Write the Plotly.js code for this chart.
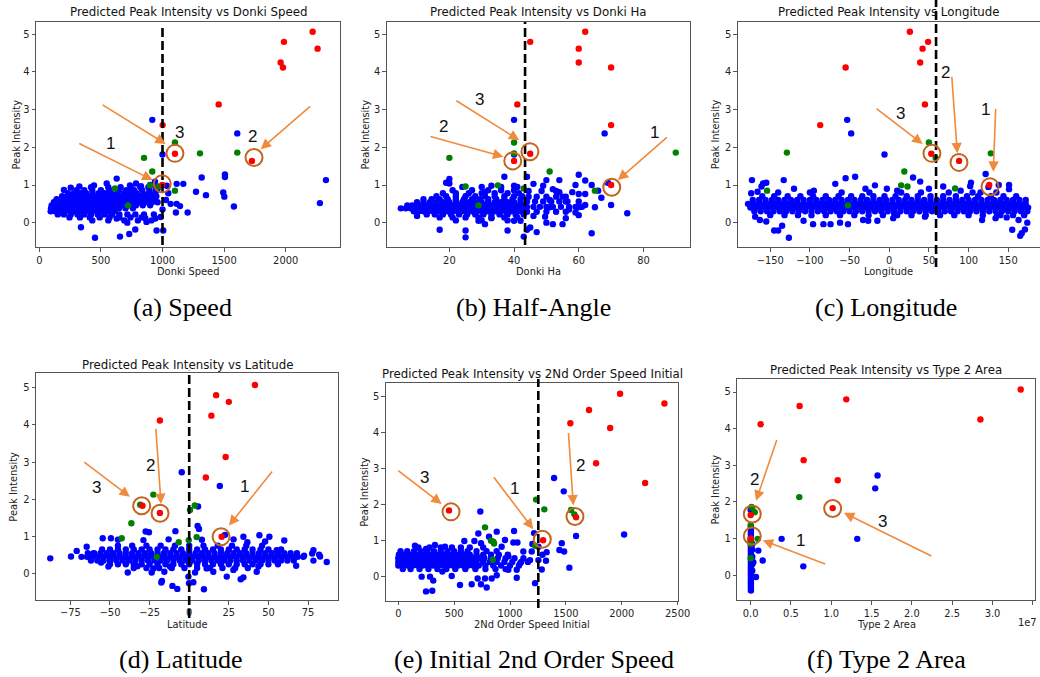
<!DOCTYPE html>
<html><head><meta charset="utf-8">
<script src="https://cdn.plot.ly/plotly-3.0.1.min.js"></script>
<style>html,body{margin:0;padding:0;background:#fff;}#chart{width:1040px;height:677px;}</style>
</head><body><div id="chart"></div>
<script>
// ---------------- DATA ----------------
const redPeak   = [5.07,4.80,4.62,4.25,4.12,3.14,2.59,1.83,1.64,1.00];
const greenPeak = [2.13,1.86,1.84,1.72,1.36,0.99,0.96,0.91,0.85,0.46];

const speedRed   = [2219,1986,2259,1959,1978,1456,1001,1101,1726,998];
const haRed      = [62,45,60,60,70,41,70,45,40,70];
const lonRed     = [26,49,42,39,-55,45,-87,53,88,126];
const latRed     = [41.5,17,25,14,-18.5,23,10.5,-29.5,-18.5,20.5];
const sosRed     = [1985,2382,1707,1540,1896,1770,2209,454,1591,1296];
const areaRed    = [3.35,1.186,0.607,2.85,0.124,0.657,1.08,1.017,0.0,0.0];

const speedGreen = [1101,1607,1304,850,917,898,966,614,1101,720];
const haGreen    = [40,90,40,20,51,35,25,43,65,29];
const lonGreen   = [50,-129,128,58.5,19,15,23,83,-154,-52];
const latGreen   = [-22.6,-30.9,3.5,0.5,-36.5,4.7,-42.6,-0.3,-6.6,-20.5];
const sosGreen   = [1233,1307,1546,1576,776,830,851,857,1224,845];
const areaGreen  = [0.603,0.01,0.02,0.05,0.0,0.087,0.0,0.0,0.0,0.0];

// blue: scattered points [x, peak]
const speedBlueOut = [[917,2.73],[1607,2.37],[1000,1.81],[2327,1.13],[1318,1.20],[1507,1.28],[1507,1.21],[1169,1.03],[1115,1.03],[1272,0.82],[1353,0.73],[1493,0.80],[1502,0.69],[1580,0.43],[2278,0.52],[1142,0.44],[1204,0.27],[1109,0.27],[1034,0.98],[1047,0.78],[1066,0.50],[1115,0.50],[1028,0.60],[860,0.12],[942,0.11],[952,-0.21],[1006,-0.21],[779,-0.18],[730,-0.30],[655,-0.37],[452,-0.40],[338,-0.12],[714,0.0],[628,0.11],[547,1.04],[628,1.17],[736,0.99],[785,1.04],[939,1.09],[825,0.97],[444,0.99],[325,0.96],[255,0.93],[200,0.87],[870,0.02],[1000,0.35],[985,0.15],[960,0.9],[900,1.0]];
// blue: dense band, rows of [peak, [x...]]
const speedBlueCore = [
 [0.30,[92,128,165,205,248,290,335,378,420,465,510,560,610]],
 [0.38,[95,132,170,210,250,292,333,375,418,460,505,550,598,648,700,760]],
 [0.46,[100,138,176,214,252,290,330,370,410,452,495,540,585,632,680,730,785,840,900]],
 [0.54,[118,156,194,232,270,310,350,392,435,478,522,566,612,660,708,758,810,862,915,960]],
 [0.62,[140,178,216,255,295,336,378,420,462,505,548,592,638,685,732,780,830,880,930]],
 [0.70,[185,228,270,312,355,398,440,484,528,572,618,664,712,760,808,858,905,950]],
 [0.78,[232,280,330,380,432,482,532,582,632,684,736,788,840,890,940]],
 [0.86,[300,365,430,500,570,640,705,770,835,895,950]],
 [0.94,[420,560,660,745,820,885,945]],
 [0.22,[150,200,255,310,365,420,475,530,590,650,715,780,850,930]],
 [0.14,[245,330,410,490,570,650,740,830]],
 [0.06,[430,560,690,800,910]]
];

const haBlueOut = [[40,2.73],[68,2.37],[40,1.81],[20,1.16],[20,1.04],[37,1.22],[44,1.22],[60,1.27],[62,1.12],[59,1.0],[64,1.0],[66,0.85],[60,0.76],[62,0.76],[54,0.81],[58,0.81],[52,0.89],[49,0.98],[46,1.03],[67,0.66],[60,0.41],[62,0.47],[65,0.41],[70,0.47],[75,0.25],[59,0.27],[56,0.12],[52,-0.04],[55,-0.04],[64,-0.28],[49.6,0.16],[46,0.18],[45,-0.13],[44,-0.19],[43,-0.37],[42,0.05],[40,0.05],[38,-0.21],[33,0.12],[31,-0.04],[29,0.05],[25,-0.21],[25,-0.39],[17,-0.19],[10,0.18],[19,1.06],[33,0.98],[31,0.81],[40,0.98],[50,1.13],[54,1.13],[51,0.60],[51,0.41],[55,0.69],[56,0.56],[69,1.06],[57,0.35],[60,0.2],[50,0.0],[47,-0.25]];
const haBlueCore = [
 [0.38,[5,6.5,8,9.5,11,12.5,14,15.5,17,18.5,20,21.5,23,24.5,26,27.5,29,30.5,32,33.5,35,36.5,38,39.5,41,42.5]],
 [0.46,[7,8.5,10,11.5,13,14.5,16,17.5,19,20.5,22,23.5,25,26.5,28,29.5,31,32.5,34,35.5,37,38.5,40,41.5,43]],
 [0.30,[9,10.5,12,13.5,15,16.5,18,19.5,21,22.5,24,25.5,27,28.5,30,31.5,33,34.5,36,37.5,39,40.5,42]],
 [0.54,[10,12,14,16,18,20,22,24,26,28,30,32,34,36,38,40,42]],
 [0.62,[12,14.5,17,19.5,22,24.5,27,29.5,32,34.5,37,39.5,42]],
 [0.22,[13,15.5,18,20.5,23,25.5,28,30.5,33,35.5,38,40.5,43]],
 [0.70,[16,19,22,25,28,31,34,37,40,42.5]],
 [0.14,[17,21,25,29,33,37,41]],
 [0.78,[18,22,26,30,34,38,41.5]],
 [0.86,[21,27,32,36,40]],
 [0.95,[24,30,36,41]],
 [0.06,[22,30,38]],
 [0.42,[44,46,48,50,52,54.5,57,59,61]],
 [0.56,[44,46.5,49,51.5,54,56.5,60]],
 [0.69,[44.5,47,50,53,56]],
 [0.29,[44,47,50,53,56]],
 [0.84,[44.5,48.5,53]]
];

const lonBlueOut = [[-53,2.73],[-48,2.37],[-6,1.81],[-173,1.13],[-133,1.13],[-159,1.04],[-55,1.18],[-43,1.22],[-68,1.03],[30,1.20],[39,1.09],[121.5,1.29],[138,1.0],[151,1.0],[151,0.89],[102,0.97],[103,1.06],[68,0.96],[50,0.90],[-18,0.99],[-126.5,-0.40],[-145,-0.21],[-140,-0.21],[-135,-0.08],[-108,0.05],[-96,-0.04],[-83,-0.04],[-74,-0.04],[-62,0.0],[-52,-0.04],[-33,0.07],[-26.5,0.05],[-15,0.05],[6,0.25],[5,0.12],[45,0.16],[117,0.07],[134,0.12],[155,-0.19],[165,-0.35],[171,-0.18],[167,-0.28],[174,0.0],[163,0.07],[148,0.14],[-169,0.16],[-163,0.07],[-155,0.03],[-174,0.78],[-166,0.82],[-155,1.06],[-161,0.96],[-95,0.85],[-120,0.9],[-30,0.9],[10,0.85],[-3,0.9],[90,0.85],[115,0.8],[140,0.2],[125,0.95]];
const lonBlueCore = [
 [0.50,[-178,-171,-164,-157,-150,-143,-136,-129,-122,-115,-108,-101,-94,-87,-80,-73,-66,-59,-52,-45,-38,-31,-24,-17,-10,-3,4,11,18,25,32,39,46,53,60,67,74,81,88,95,102,109,116,123,130,137,144,151,158,165,172]],
 [0.40,[-175,-168,-161,-154,-147,-140,-133,-126,-119,-112,-105,-98,-91,-84,-77,-70,-63,-56,-49,-42,-35,-28,-21,-14,-7,0,7,14,21,28,35,42,49,56,63,70,77,84,91,98,105,112,119,126,133,140,147,154,161,168,175]],
 [0.60,[-172,-164,-156,-148,-140,-132,-124,-116,-108,-100,-92,-84,-76,-68,-60,-52,-44,-36,-28,-20,-12,-4,4,12,20,28,36,44,52,60,68,76,84,92,100,108,116,124,132,140,148,156,164,172]],
 [0.30,[-170,-162,-154,-146,-138,-130,-122,-114,-106,-98,-90,-82,-74,-66,-58,-50,-42,-34,-26,-18,-10,-2,6,14,22,30,38,46,54,62,70,78,86,94,102,110,118,126,134,142,150,158,166,174]],
 [0.70,[-160,-145,-128,-112,-96,-80,-64,-48,-34,-20,-6,8,22,36,52,68,84,98,112,128,144,160]],
 [0.20,[-150,-132,-115,-98,-80,-62,-44,-26,-8,10,28,46,64,82,100,118,136,156,170]],
 [0.80,[-140,-100,-60,-25,15,40,75,105,135]]
];

const latBlueOut = [[-4.7,2.73],[19.3,2.36],[5.6,1.81],[-27.5,1.14],[-25.4,1.12],[-8.7,1.15],[5.3,1.29],[6.2,1.21],[-28.9,0.91],[-54.6,0.96],[-49.4,0.96],[22.6,1.05],[34.2,1.0],[44.3,1.04],[50.6,1.0],[36.7,0.85],[78.4,0.64],[77.6,0.55],[78.4,0.36],[67.5,0.22],[86.8,0.32],[72.5,0.49],[82,0.52],[82.6,0.47],[55.2,0.64],[47.9,0.87],[-87.7,0.42],[-74.6,0.47],[-71,0.62],[-64.7,0.73],[-60.5,0.55],[-55.6,0.31],[-51,0.20],[-38.8,0.04],[-32.7,0.21],[-23.7,0.04],[-17.2,-0.19],[-17.6,-0.23],[-15.7,0.06],[-10.6,-0.32],[-7.5,-0.40],[-0.5,-0.07],[2.6,-0.22],[-0.1,-0.25],[9.3,-0.41],[3.7,0.04],[15.2,0.06],[23.7,-0.07],[32.5,-0.14],[34.2,-0.09],[42.6,0.06],[43.7,0.20],[27.9,0.11],[11,0.15],[-12.1,0.20],[-22.6,0.15],[-13,0.93],[8,0.92],[-45,0.92],[60,0.9],[28,0.93]];
const latBlueCore = [
 [0.46,[-68,-64.5,-61,-57.5,-54,-50.5,-47,-43.5,-40,-36.5,-33,-29.5,-26,-22.5,-19,-15.5,-12,-8.5,-5,-1.5,2,5.5,9,12.5,16,19.5,23,26.5,30,33.5,37,40.5,44,47.5,51,54.5,58,61.5,65,68.5,72]],
 [0.36,[-62,-58,-54,-50,-46,-42,-38,-34,-30,-26,-22,-18,-14,-10,-6,-2,2,6,10,14,18,22,26,30,34,38,42,46,50,54,58,62,66]],
 [0.56,[-64,-60,-56,-52,-48,-44,-40,-36,-32,-28,-24,-20,-16,-12,-8,-4,0,4,8,12,16,20,24,28,32,36,40,44,48,52,56,60,64,68]],
 [0.26,[-50,-45,-40,-35,-30,-25,-20,-15,-10,-5,0,5,10,15,20,25,30,35,40,45,50,56]],
 [0.66,[-55,-50,-45,-40,-35,-30,-25,-20,-15,-10,-5,0,5,10,15,20,25,30,35,40,45,50,58]],
 [0.16,[-35,-27,-19,-11,-3,5,13,21,29,37]],
 [0.76,[-45,-36,-27,-18,-9,0,9,18,27,36,46]]
];

const sosBlueOut = [[1394,2.73],[1481,2.36],[734,1.80],[2021,1.16],[1591,1.12],[1215,1.20],[1463,0.92],[1442,0.73],[1484,0.69],[1531,0.24],[1328,0.67],[1322,0.43],[1284,0.19],[1224,-0.19],[1254,0.45],[1179,0.45],[1194,0.69],[1254,0.82],[1036,1.26],[1030,0.94],[1066,0.94],[1119,0.69],[1090,0.36],[1060,0.18],[1060,-0.04],[985,0.18],[881,0.03],[836,-0.06],[776,-0.06],[791,-0.31],[710,-0.06],[740,-0.22],[657,-0.22],[552,-0.24],[478,0.01],[394,0.13],[313,-0.12],[304,-0.40],[248,-0.42],[284,-0.01],[209,-0.01],[716,1.19],[812,1.10],[591,0.98],[681,0.98],[740,0.92],[328,0.87],[149,0.85],[248,0.76],[418,0.82],[955,1.01],[925,0.82],[881,1.24],[985,0.56],[1200,0.9],[1290,0.6]];
const sosBlueCore = [
 [0.30,[0,40,85,130,175,220,265,310,355,400,445,490,535,580,625,670,720,780,850,920,1000,1080]],
 [0.40,[0,25,65,110,155,200,245,290,335,380,425,470,515,560,605,650,700,760,820,880,950,1020,1100,1160]],
 [0.50,[0,40,85,130,175,220,265,310,355,400,445,490,535,580,625,670,720,770,830,890,960,1040,1120]],
 [0.60,[5,50,95,140,185,230,275,320,365,410,455,500,545,590,640,700,760,830,900,980]],
 [0.70,[20,80,140,200,260,320,380,440,500,560,620,700,790,880]],
 [0.20,[40,110,190,270,350,430,510,600,690,780,870,960]],
 [0.80,[180,280,380,480,560,640,760]]
];

// Type 2 Area in units of 1e7
const areaBlueOut = [[1.574,2.72],[1.545,2.37],[1.322,0.99],[0.384,0.99],[0.653,0.24],[0.149,0.40],[0.095,0.67],[0.066,-0.05],[0.033,0.35],[0.0,1.78],[0.02,0.12],[0.02,0.30],[0.02,0.50],[0.02,0.70],[0.02,0.85]];
const areaBlueCore = [
 [-0.42,[0.003]],[-0.37,[0.003]],[-0.32,[0.003]],[-0.27,[0.003]],[-0.22,[0.003]],[-0.17,[0.003]],[-0.12,[0.003]],[-0.07,[0.003]],
 [-0.02,[0.003]],[0.03,[0.003]],[0.08,[0.003]],[0.13,[0.003]],[0.18,[0.003]],[0.23,[0.003]],[0.28,[0.003]],[0.33,[0.003]],
 [0.38,[0.003]],[0.43,[0.003]],[0.48,[0.003]],[0.53,[0.003]],[0.58,[0.003]],[0.63,[0.003]],[0.68,[0.003]],[0.73,[0.003]],
 [0.78,[0.003]],[0.83,[0.003]],[0.88,[0.003]],[0.93,[0.003]],[0.98,[0.003]],[1.03,[0.003]],[1.08,[0.003]],[1.13,[0.003]],
 [1.18,[0.003]],[1.23,[0.003]],[1.28,[0.003]],[1.33,[0.003]]
];

// threshold lines
const speedThreshold = 1000, haThreshold = 43.4, lonThreshold = 59, latThreshold = 0, sosThreshold = 1253;

// callouts: arrows [tailX, tailY, headX, headY], circles [x, y], labels [x, y, text]
const speedArrows = [[312,2.12,920,1.13],[501,3.15,1026,2.09],[2211,3.12,1797,1.95]];
const speedCircles = [[998,1.03],[1101,1.84],[1743,1.73]];
const speedLabels = [[580,2.09,'1'],[1134,2.40,'3'],[1729,2.28,'2']];
const haArrows = [[13.7,2.30,36.7,1.75],[21.7,3.26,41.6,2.19],[87.7,2.30,72.1,1.13]];
const haCircles = [[39.6,1.64],[44.9,1.885],[70.2,0.94]];
const haLabels = [[18.3,2.55,'2'],[29.3,3.26,'3'],[83.3,2.39,'1']];
const lonArrows = [[-18,3.06,42.1,2.09],[78.7,3.91,85.8,1.84],[134.2,3.06,131.1,1.35]];
const lonCircles = [[53.8,1.84],[87.9,1.60],[127,0.955]];
const lonLabels = [[14.4,2.90,'3'],[71.1,3.98,'2'],[121.9,3.01,'1']];
const latArrows = [[-67.2,3.03,-37.4,2.07],[-21.1,3.94,-17.8,1.88],[53.1,2.79,25.1,1.30]];
const latCircles = [[-30,1.83],[-18.4,1.63],[20.1,1.00]];
const latLabels = [[-58.4,2.33,'3'],[-24.3,2.92,'2'],[35.2,2.34,'1']];
const sosArrows = [[-14,2.97,388,2.01],[845,2.79,1208,1.31],[1522,4.02,1566,1.97]];
const sosCircles = [[472,1.79],[1289,1.03],[1581,1.66]];
const sosLabels = [[230,2.75,'3'],[1038,2.44,'1'],[1635,3.09,'2']];
const areaArrows = [[0.33,3.73,0.066,2.03],[0.943,0.29,0.149,0.95],[2.26,0.50,1.157,1.70]];
const areaCircles = [[0.02,1.67],[0.02,1.07],[1.017,1.82]];
const areaLabels = [[0.045,2.60,'2'],[0.62,0.94,'1'],[1.64,1.46,'3']];

const peakTicks = [0,1,2,3,4,5];
const speedTicks = [0,500,1000,1500,2000];
const haTicks = [20,40,60,80];
const lonTicks = [-150,-100,-50,0,50,100,150];
const latTicks = [-75,-50,-25,0,25,50,75];
const sosTicks = [0,500,1000,1500,2000,2500];
const areaTicks = [0,0.5,1,1.5,2,2.5,3,3.5];

// ---------------- LAYOUT CONFIG (pixels) ----------------
const W = 1040, H = 677;
const panels = [
 {title:'Predicted Peak Intensity vs Donki Speed', xlabel:'Donki Speed', caption:'(a) Speed',
  blueOut:speedBlueOut, blueCore:speedBlueCore, green:speedGreen, red:speedRed, thr:speedThreshold,
  arrows:speedArrows, circles:speedCircles, labels:speedLabels, xt:speedTicks,
  box:[36,340,21.7,247.3], xr:[-27,2441], yr:[-0.654,5.335], titleY:12.3, xlabY:271.5, ylabX:16,
  thrY:[24,245], capX:182, capY:307},
 {title:'Predicted Peak Intensity vs Donki Ha', xlabel:'Donki Ha', caption:'(b) Half-Angle',
  blueOut:haBlueOut, blueCore:haBlueCore, green:haGreen, red:haRed, thr:haThreshold,
  arrows:haArrows, circles:haCircles, labels:haLabels, xt:haTicks,
  box:[386.7,690,21.7,247.3], xr:[0.62,94.4], yr:[-0.654,5.335], titleY:12.3, xlabY:271.5, ylabX:365,
  thrY:[22,245], capX:533, capY:307},
 {title:'Predicted Peak Intensity vs Longitude', xlabel:'Longitude', caption:'(c) Longitude',
  blueOut:lonBlueOut, blueCore:lonBlueCore, green:lonGreen, red:lonRed, thr:lonThreshold,
  arrows:lonArrows, circles:lonCircles, labels:lonLabels, xt:lonTicks,
  box:[737.7,1040,21.7,247.3], xr:[-191,190], yr:[-0.654,5.335], titleY:12.3, xlabY:271.5, ylabX:715.7,
  thrY:[0,267], capX:886, capY:307},
 {title:'Predicted Peak Intensity vs Latitude', xlabel:'Latitude', caption:'(d) Latitude',
  blueOut:latBlueOut, blueCore:latBlueCore, green:latGreen, red:latRed, thr:latThreshold,
  arrows:latArrows, circles:latCircles, labels:latLabels, xt:latTicks,
  box:[36,338.3,373.3,600], xr:[-96.7,94.1], yr:[-0.698,5.386], titleY:365, xlabY:624, ylabX:14,
  thrY:[370.7,618], capX:180, capY:659},
 {title:'Predicted Peak Intensity vs 2Nd Order Speed Initial', xlabel:'2Nd Order Speed Initial', caption:'(e) Initial 2nd Order Speed',
  blueOut:sosBlueOut, blueCore:sosBlueCore, green:sosGreen, red:sosRed, thr:sosThreshold,
  arrows:sosArrows, circles:sosCircles, labels:sosLabels, xt:sosTicks,
  box:[385.7,678.3,383,600.7], xr:[-112.8,2506], yr:[-0.678,5.369], titleY:374, xlabY:624, ylabX:365,
  thrY:[379,608], capX:534, capY:659},
 {title:'Predicted Peak Intensity vs Type 2 Area', xlabel:'Type 2 Area', caption:'(f) Type 2 Area',
  blueOut:areaBlueOut, blueCore:areaBlueCore, green:areaGreen, red:areaRed, thr:null,
  arrows:areaArrows, circles:areaCircles, labels:areaLabels, xt:areaTicks, xfmt:'.1f',
  box:[737.3,1035.3,379.3,600.4], xr:[-0.166,3.531], yr:[-0.69,5.347], titleY:370, xlabY:624, ylabX:715.7,
  thrY:null, capX:886, capY:659, offset:'1e7', offX:1027, offY:622}
];

const AXIS_COLOR = '#555', TICK_FONT = {family:'DejaVu Sans, sans-serif', size:9.9, color:'#222'};
const ARROW_COLOR = '#f08a3c', CIRCLE_COLOR = '#c4641f';

const traces = [];
const layout = {width:W, height:H, margin:{l:0,r:0,t:0,b:0}, showlegend:false,
  paper_bgcolor:'#ffffff', plot_bgcolor:'#ffffff', annotations:[], shapes:[],
  font:{family:'DejaVu Sans, sans-serif', size:9.9, color:'#222'}, hovermode:false};

panels.forEach((p, i) => {
  const n = i === 0 ? '' : String(i + 1);
  const xr = 'x' + n, yr = 'y' + n;
  // blue: core rows + scattered
  const bx = [], by = [];
  p.blueCore.forEach(([y, xs]) => xs.forEach(x => { bx.push(x); by.push(y); }));
  p.blueOut.forEach(([x, y]) => { bx.push(x); by.push(y); });
  traces.push({type:'scatter', mode:'markers', x:bx, y:by, xaxis:xr, yaxis:yr,
    marker:{color:'#0000ff', size:6.4, line:{width:0}}, hoverinfo:'skip'});
  traces.push({type:'scatter', mode:'markers', x:p.green, y:greenPeak, xaxis:xr, yaxis:yr,
    marker:{color:'#008000', size:6.4, line:{width:0}}, hoverinfo:'skip'});
  traces.push({type:'scatter', mode:'markers', x:p.red, y:redPeak, xaxis:xr, yaxis:yr,
    marker:{color:'#ff0000', size:6.4, line:{width:0}}, hoverinfo:'skip'});

  const [l, r, t, b] = p.box;
  layout['xaxis' + n] = {domain:[l / W, r / W], anchor:yr, range:p.xr, tickmode:'array', tickvals:p.xt,
    tickformat:p.xfmt || '', showline:true, mirror:true, linecolor:AXIS_COLOR, linewidth:1,
    ticks:'outside', ticklen:3.5, tickwidth:1, tickcolor:AXIS_COLOR, showgrid:false, zeroline:false,
    tickfont:TICK_FONT, fixedrange:true};
  layout['yaxis' + n] = {domain:[1 - b / H, 1 - t / H], anchor:xr, range:p.yr, tickmode:'array', tickvals:peakTicks,
    showline:true, mirror:true, linecolor:AXIS_COLOR, linewidth:1,
    ticks:'outside', ticklen:3.5, tickwidth:1, tickcolor:AXIS_COLOR, showgrid:false, zeroline:false,
    tickfont:TICK_FONT, fixedrange:true};

  // subplot title
  layout.annotations.push({xref:'paper', yref:'paper', x:(l + r) / 2 / W, y:1 - p.titleY / H,
    xanchor:'center', yanchor:'middle', showarrow:false, text:p.title,
    font:{family:'DejaVu Sans, sans-serif', size:11.8, color:'#111'}});
  // axis labels
  layout.annotations.push({xref:'paper', yref:'paper', x:(l + r) / 2 / W, y:1 - p.xlabY / H,
    xanchor:'center', yanchor:'middle', showarrow:false, text:p.xlabel,
    font:{family:'DejaVu Sans, sans-serif', size:9.9, color:'#222'}});
  layout.annotations.push({xref:'paper', yref:'paper', x:p.ylabX / W, y:1 - ((t + b) / 2) / H,
    xanchor:'center', yanchor:'middle', showarrow:false, text:'Peak Intensity', textangle:-90,
    font:{family:'DejaVu Sans, sans-serif', size:9.9, color:'#222'}});
  if (p.offset) {
    layout.annotations.push({xref:'paper', yref:'paper', x:p.offX / W, y:1 - p.offY / H,
      xanchor:'center', yanchor:'middle', showarrow:false, text:p.offset,
      font:{family:'DejaVu Sans, sans-serif', size:9.9, color:'#222'}});
  }
  // caption
  layout.annotations.push({xref:'paper', yref:'paper', x:p.capX / W, y:1 - p.capY / H,
    xanchor:'center', yanchor:'middle', showarrow:false, text:p.caption,
    font:{family:'Liberation Serif, serif', size:26, color:'#000'}});

  // threshold dashed line
  if (p.thr !== null) {
    layout.shapes.push({type:'line', xref:xr, yref:'paper', x0:p.thr, x1:p.thr,
      y0:1 - p.thrY[1] / H, y1:1 - p.thrY[0] / H, line:{color:'#000', width:2.6, dash:'9px,4px'}, layer:'above'});
  }
  // callouts
  p.arrows.forEach(([tx, ty, hx, hy]) => {
    layout.annotations.push({xref:xr, yref:yr, axref:xr, ayref:yr, x:hx, y:hy, ax:tx, ay:ty,
      text:'', showarrow:true, arrowhead:2, arrowsize:1.3, arrowwidth:1.6, arrowcolor:ARROW_COLOR, standoff:0, startstandoff:0});
  });
  p.circles.forEach(([cx, cy]) => {
    layout.shapes.push({type:'circle', xref:xr, yref:yr, xsizemode:'pixel', ysizemode:'pixel',
      xanchor:cx, yanchor:cy, x0:-8.5, x1:8.5, y0:-8.5, y1:8.5, line:{color:CIRCLE_COLOR, width:2}, layer:'above'});
  });
  p.labels.forEach(([lx, ly, txt]) => {
    layout.annotations.push({xref:xr, yref:yr, x:lx, y:ly, text:txt, showarrow:false,
      xanchor:'center', yanchor:'middle', font:{family:'Liberation Sans, Arial, sans-serif', size:17, color:'#111'}});
  });
});

Plotly.newPlot('chart', traces, layout, {staticPlot:true, displayModeBar:false});
</script>
</body></html>
